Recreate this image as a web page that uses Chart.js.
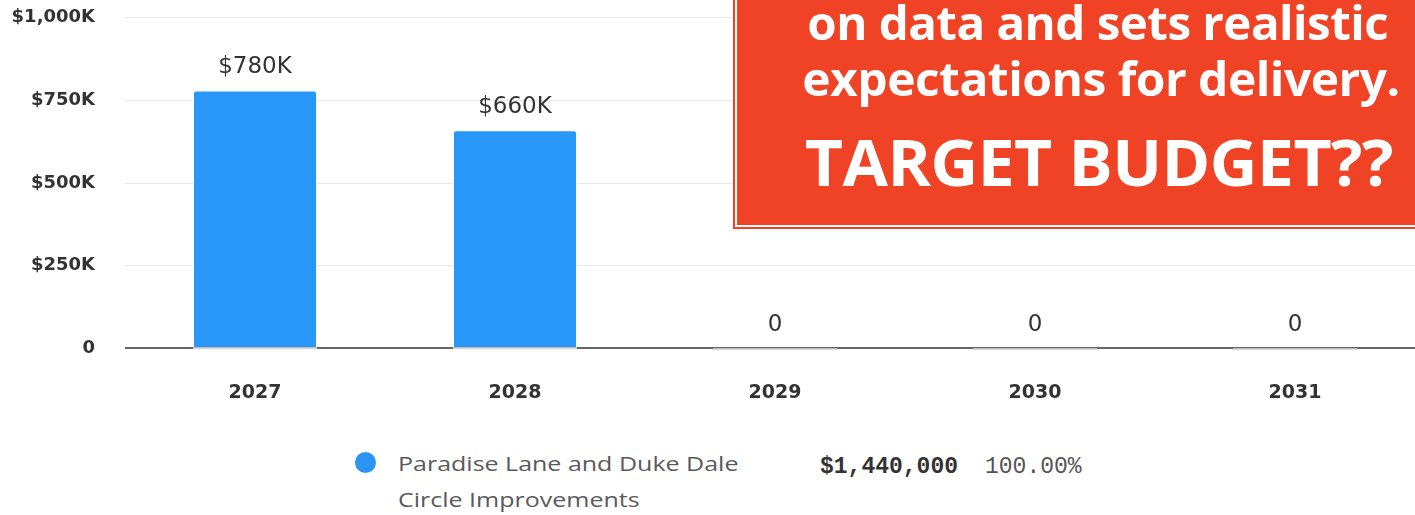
<!DOCTYPE html>
<html>
<head>
<meta charset="utf-8">
<script src="https://cdn.jsdelivr.net/npm/chart.js@4.4.1/dist/chart.umd.min.js"></script>
<style>
  html, body { margin: 0; padding: 0; background: #fff; overflow: hidden; }
  body { width: 1415px; height: 515px; position: relative; }
  #budgetChart { position: absolute; left: 0; top: -23px; }
  .box {
    position: absolute; left: 735px; top: -10px; width: 700px; height: 233px;
    background: #f04325; border: 2px solid #fff; box-shadow: 0 0 0 2px #f04325;
    color: #fff; font-family: "Open Sans", sans-serif; font-weight: 700;
  }
  .box div { position: absolute; white-space: nowrap; transform-origin: right center; }
  .l1 { top: -2px; right: 49px; font-size: 47px; transform: scaleX(1.01); letter-spacing: -0.5px; }
  .l2 { top: 54px; right: 37px; font-size: 47px; transform: scaleX(1.02); letter-spacing: -0.5px; }
  .l3 { top: 126px; right: 44px; font-size: 64px; transform: scaleX(1.03); letter-spacing: -0.5px; }
  .legend { position: absolute; left: 355px; top: 446px; font-family: "Open Sans", sans-serif; }
  .dot { position: absolute; left: 0; top: 6px; width: 21px; height: 21px; border-radius: 50%; background: #2b95f5; }
  .name { position: absolute; left: 43px; top: 0; width: 300px; font-size: 20px; line-height: 36px; color: #5a5a5a;
          transform: scaleX(1.25); transform-origin: left center; white-space: nowrap; }
  .amt { position: absolute; left: 465px; top: 8px; font-family: "Liberation Mono", monospace; font-weight: 700; font-size: 23px; color: #333; white-space: nowrap; }
  .pct { position: absolute; left: 630px; top: 8px; font-family: "Liberation Mono", monospace; font-size: 23px; color: #555; white-space: nowrap; }
</style>
</head>
<body>
<canvas id="budgetChart" width="1430" height="453"></canvas>

<div class="box">
  <div class="l1">on data and sets realistic</div>
  <div class="l2">expectations for delivery.</div>
  <div class="l3">TARGET BUDGET??</div>
</div>

<div class="legend">
  <span class="dot"></span>
  <div class="name">Paradise Lane and Duke Dale<br>Circle Improvements</div>
  <div class="amt">$1,440,000</div>
  <div class="pct">100.00%</div>
</div>

<script>
const years = ['2027', '2028', '2029', '2030', '2031'];
const amounts = [780000, 660000, 0, 0, 0];
const yTicks = [0, 250000, 500000, 750000, 1000000];

function money(v) {
  if (v === 0) return '0';
  return '$' + (v / 1000).toLocaleString('en-US') + 'K';
}

// labels above bars + light strip on the zero line under each bar
const barExtras = {
  id: 'barExtras',
  afterDatasetsDraw(chart) {
    const ctx = chart.ctx;
    const meta = chart.getDatasetMeta(0);
    ctx.save();
    meta.data.forEach((bar, i) => {
      const w = bar.width;
      ctx.strokeStyle = '#d9d9d9';
      ctx.lineWidth = 2;
      ctx.beginPath();
      ctx.moveTo(bar.x - w / 2, bar.base + 1);
      ctx.lineTo(bar.x + w / 2, bar.base + 1);
      ctx.stroke();

      ctx.fillStyle = '#333';
      ctx.font = '23px "DejaVu Sans", sans-serif';
      ctx.textAlign = 'center';
      ctx.textBaseline = 'middle';
      ctx.fillText(money(amounts[i]), bar.x, bar.y - 23);
    });
    ctx.restore();
  }
};

new Chart(document.getElementById('budgetChart'), {
  type: 'bar',
  data: {
    labels: years,
    datasets: [{
      label: 'Paradise Lane and Duke Dale Circle Improvements',
      data: amounts,
      backgroundColor: '#2897f8',
      borderColor: 'rgba(255,255,255,0.5)',
      borderWidth: 1,
      borderRadius: 3,
      borderSkipped: 'bottom',
      categoryPercentage: 1,
      barPercentage: 0.477
    }]
  },
  options: {
    responsive: false,
    animation: false,
    layout: { padding: { top: 10, right: 5, bottom: 1, left: 0 } },
    plugins: { legend: { display: false }, tooltip: { enabled: false } },
    scales: {
      x: {
        grid: { display: false },
        border: { display: false },
        ticks: {
          padding: 25,
          color: '#333',
          font: { family: 'DejaVu Sans', size: 19, weight: 'bold' }
        }
      },
      y: {
        min: 0,
        max: 1000000,
        afterBuildTicks: (s) => { s.ticks = yTicks.map(v => ({ value: v })); },
        afterFit: (s) => { s.width = 125; },
        border: { display: false },
        grid: {
          drawTicks: false,
          color: (c) => c.tick && c.tick.value === 0 ? '#666' : '#e8e8e8',
          lineWidth: (c) => c.tick && c.tick.value === 0 ? 2 : 1
        },
        ticks: {
          padding: 30,
          color: '#333',
          font: { family: 'DejaVu Sans', size: 18, weight: 'bold' },
          callback: (v) => money(v)
        }
      }
    }
  },
  plugins: [barExtras]
});
</script>
</body>
</html>
